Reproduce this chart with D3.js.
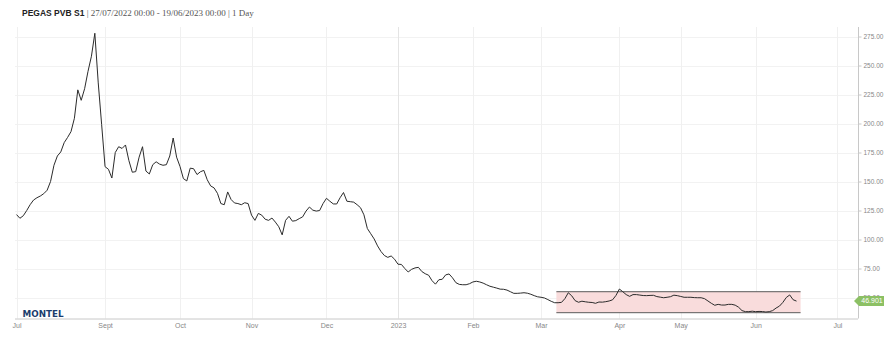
<!DOCTYPE html>
<html><head><meta charset="utf-8">
<script src="https://cdn.jsdelivr.net/npm/d3@7"></script>
<style>html,body{margin:0;padding:0;background:#fff;} svg{display:block}</style>
</head><body><svg id="chart" width="889" height="344"></svg>
<script>
// ---- data ----
const seriesName = "PEGAS PVB S1";
const subtitle = "| 27/07/2022 00:00 - 19/06/2023 00:00 | 1 Day";
const startDate = "2022-07-27";
const endDate = "2023-06-19";
const holidays = ["2022-12-26", "2023-04-07", "2023-04-10", "2023-05-01"];
const values = [
  121.5,118.3,120.5,125,130,134,136,137.5,139.5,142.5,
  150,164,172,175.5,183.5,188,193,204.5,229,220,
  230,245,258,277.8,235,199,162.8,160.5,153,175,
  180,178.5,181.5,168,158,158.5,171,180,159,156.5,
  164.5,167,165,164,164.5,172,187.5,171,163,152.5,
  150.5,161.5,161,156,158.4,159.6,151.5,146.2,144.5,139.8,
  131,130,141,134.5,131.5,131,130,131.7,131,121,
  116.5,122.5,121,117.5,116.5,118.5,115,111,104,116.5,
  120,115.8,116.3,118,119.5,124.5,128,125.3,124.5,125,
  131,135.5,133,130.7,130.6,136,140.5,133,132.6,132.2,
  130,127.4,121.3,109.5,105,100.5,94.5,89.7,86.2,84.6,
  85.8,83,78.7,78.5,75,72,74.3,75.5,76,72.4,
  70.5,69.2,64.5,61.5,65.3,65.7,69.5,70.3,67,62.8,
  61.3,61,61,61.9,63.4,64,63.4,62.4,61,59.7,
  58.9,58.1,57.2,57.1,56.4,55,53.6,53.6,53.8,54.1,
  53.7,52.8,51.6,50.6,50.2,49.6,48.2,46.7,45.5,45.5,
  45.8,49,54.1,51.5,47.3,45.9,46.8,46.3,45.9,45.7,
  45,46.1,46,46.4,47,48,51.8,57.3,55,52.5,
  51,52.5,52.5,52.1,51.7,51.6,51.8,51.9,50.8,50.3,
  49.8,50.2,50.7,52,51.6,50.9,50.2,50.2,50.2,49.9,
  49.8,49.8,49,47,45,43.3,44.1,43.5,43.5,44.1,
  44.1,43.4,41.6,38.7,37.8,37.8,38.2,37.8,38,37.9,
  37.5,37.8,38.7,40.9,42.6,45.8,50,52.2,48.1,46.901
];
const yTicks = [50, 75, 100, 125, 150, 175, 200, 225, 250, 275];
const tickMonths = ["2022-07","2022-09","2022-10","2022-11","2022-12","2023-01","2023-02","2023-03","2023-04","2023-05","2023-06","2023-07"];
const tickLabels = ["Jul","Sept","Oct","Nov","Dec","2023","Feb","Mar","Apr","May","Jun","Jul"];
// highlighted range (trading-day positions, price range)
const bandStartDay = 158.5, bandEndDay = 230.2;
const bandLow = 36.9, bandHigh = 55.0;

// ---- trading days (weekdays minus exchange holidays) ----
const fmt = d3.utcFormat("%Y-%m-%d");
const days = d3.utcDays(new Date(startDate + "T00:00Z"), d3.utcDay.offset(new Date(endDate + "T00:00Z"), 1))
  .filter(d => d.getUTCDay() !== 0 && d.getUTCDay() !== 6 && !holidays.includes(fmt(d)));
const data = days.map((d, i) => ({date: d, i, v: values[i]}));

// ---- layout ----
const W = 889, H = 344;
const plot = {left: 15, right: 858, top: 27, bottom: 318.5};
const svg = d3.select("#chart");

const x = d3.scaleLinear().domain([0, data.length - 1]).range([16.5, 796.5]);
const y = d3.scaleLinear().domain([31.9, 283.2]).range([plot.bottom, plot.top]);

function dayPos(monthStr) {
  const m0 = new Date(monthStr + "-01T00:00Z");
  const idx = data.findIndex(d => d.date >= m0);
  if (idx >= 0) return idx;
  const last = data[data.length - 1];
  return last.i + d3.utcDay.count(last.date, m0);
}
const ticks = tickMonths.map((m, k) => ({pos: dayPos(m), label: tickLabels[k], year: m.endsWith("-01")}));

// grid
const g = svg.append("g");
g.selectAll("line.hg").data(yTicks).join("line")
  .attr("x1", plot.left).attr("x2", plot.right)
  .attr("y1", d => Math.round(y(d)) + 0.5).attr("y2", d => Math.round(y(d)) + 0.5)
  .attr("stroke", "#f2f2f2").attr("stroke-width", 1);
g.selectAll("line.vg").data(ticks).join("line")
  .attr("x1", d => Math.round(x(d.pos)) + 0.5).attr("x2", d => Math.round(x(d.pos)) + 0.5)
  .attr("y1", plot.top).attr("y2", plot.bottom)
  .attr("stroke", d => d.year ? "#e4e4e4" : "#f0f0f0").attr("stroke-width", 1);

// band
svg.append("rect")
  .attr("x", x(bandStartDay)).attr("width", x(bandEndDay) - x(bandStartDay))
  .attr("y", y(bandHigh)).attr("height", y(bandLow) - y(bandHigh))
  .attr("fill", "#f9dcdc");
[bandHigh, bandLow].forEach(v => {
  svg.append("line").attr("x1", x(bandStartDay)).attr("x2", x(bandEndDay))
    .attr("y1", y(v)).attr("y2", y(v)).attr("stroke", "#5a5a5a").attr("stroke-width", 1);
});

// line
svg.append("path").datum(data)
  .attr("d", d3.line().x(d => x(d.i)).y(d => y(d.v)))
  .attr("fill", "none").attr("stroke", "#2b2b2b").attr("stroke-width", 1)
  .attr("stroke-linejoin", "round");

// x axis
const xAxis = d3.axisBottom(x).tickValues(ticks.map(t => t.pos))
  .tickFormat((d, k) => ticks[k].label).tickSize(0).tickPadding(5);
const xa = svg.append("g").attr("transform", `translate(0,${plot.bottom})`).call(xAxis);
xa.select(".domain").attr("d", `M${plot.left},0.5H${plot.right}`).attr("stroke", "#c8c8c8");
xa.selectAll("text").attr("fill", "#888").style("font-family", "Liberation Sans, Arial, sans-serif").style("font-size", "7px");

// y axis (right)
const yAxis = d3.axisRight(y).tickValues(yTicks).tickFormat(d3.format(".2f")).tickSize(3).tickPadding(2);
const ya = svg.append("g").attr("transform", `translate(${plot.right + 0.5},0)`).call(yAxis);
ya.select(".domain").attr("d", `M0,${plot.top}V${plot.bottom}`).attr("stroke", "#c8c8c8");
ya.selectAll(".tick line").attr("stroke", "#c8c8c8");
ya.selectAll("text").attr("fill", "#888").style("font-family", "Liberation Sans, Arial, sans-serif").style("font-size", "6.5px");

// last value badge
const lastV = values[values.length - 1];
const by = y(lastV);
const bx = plot.right - 4;
svg.append("path")
  .attr("d", `M${bx},${by} L${bx + 5},${by - 5} H${bx + 30} V${by + 5} H${bx + 5} Z`)
  .attr("fill", "#8cc064");
svg.append("text").attr("x", bx + 18).attr("y", by + 2.4).attr("text-anchor", "middle")
  .attr("fill", "#fff").style("font-family", "Liberation Sans, Arial, sans-serif").style("font-size", "7px")
  .text(lastV.toFixed(3));

// title
const t = svg.append("text").attr("x", 22).attr("y", 16)
  .style("font-size", "8.5px").attr("fill", "#222");
t.append("tspan").style("font-family", "Liberation Sans, Arial, sans-serif").style("font-weight", "bold").text(seriesName + " ");
t.append("tspan").style("font-family", "Liberation Serif, serif").attr("fill", "#555").style("font-size", "9px").text(subtitle);

// logo
svg.append("text").attr("x", 22.5).attr("y", 316.5)
  .attr("textLength", 41).attr("lengthAdjust", "spacingAndGlyphs")
  .style("font-family", "DejaVu Sans, sans-serif").style("font-weight", "bold").style("font-size", "9.5px")
  .attr("fill", "#1b3d6d").text("MONTEL");
</script></body></html>
